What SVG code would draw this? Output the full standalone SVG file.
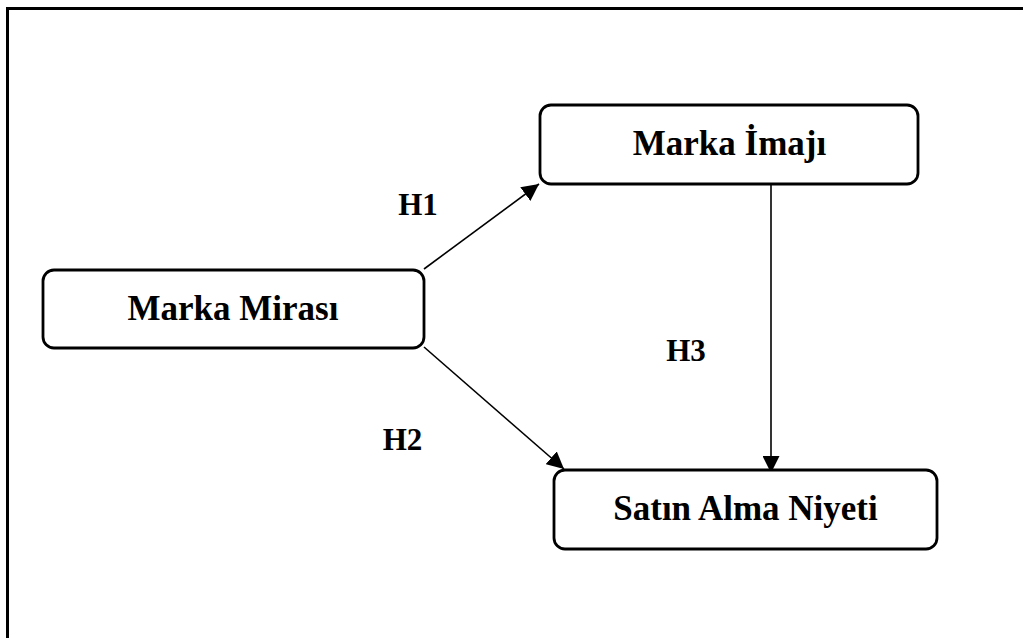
<svg xmlns="http://www.w3.org/2000/svg" width="1023" height="638" viewBox="0 0 1023 638">
<style>
.node rect{fill:#fff;stroke:#000;stroke-width:2.8}
.node text{font-family:"Liberation Serif","Times New Roman",serif;font-weight:bold;font-size:35px;text-anchor:middle;fill:#000}
.lbl{font-family:"Liberation Serif","Times New Roman",serif;font-weight:bold;font-size:31px;text-anchor:middle;fill:#000}
#connectors line{stroke:#000;stroke-width:1.6;marker-end:url(#ah)}
</style>
<defs>
<marker id="ah" viewBox="0 0 10 10" refX="10" refY="5" markerWidth="17" markerHeight="17" markerUnits="userSpaceOnUse" orient="auto">
<path d="M0,0 L10,5 L0,10 z" fill="#000"/>
</marker>
</defs>
<rect width="1023" height="638" fill="#fff"/>
<rect x="7.5" y="8.5" width="1030" height="650" fill="none" stroke="#000" stroke-width="3"/>
<g id="connectors">
<line x1="424" y1="269" x2="539" y2="184"/>
<line x1="424" y1="347" x2="564" y2="469"/>
<line x1="771" y1="185" x2="771" y2="473"/>
</g>
<g id="n-imaj" class="node">
<rect x="540" y="105" width="378" height="79" rx="11"/>
<text x="729.5" y="155">Marka İmajı</text>
</g>
<g id="n-miras" class="node">
<rect x="43" y="270" width="381" height="78" rx="11"/>
<text x="233" y="320">Marka Mirası</text>
</g>
<g id="n-niyet" class="node">
<rect x="554" y="470" width="383" height="79" rx="11"/>
<text x="745.5" y="520">Satın Alma Niyeti</text>
</g>
<text class="lbl" x="418" y="215">H1</text>
<text class="lbl" x="402.5" y="450">H2</text>
<text class="lbl" x="686" y="361">H3</text>
</svg>
